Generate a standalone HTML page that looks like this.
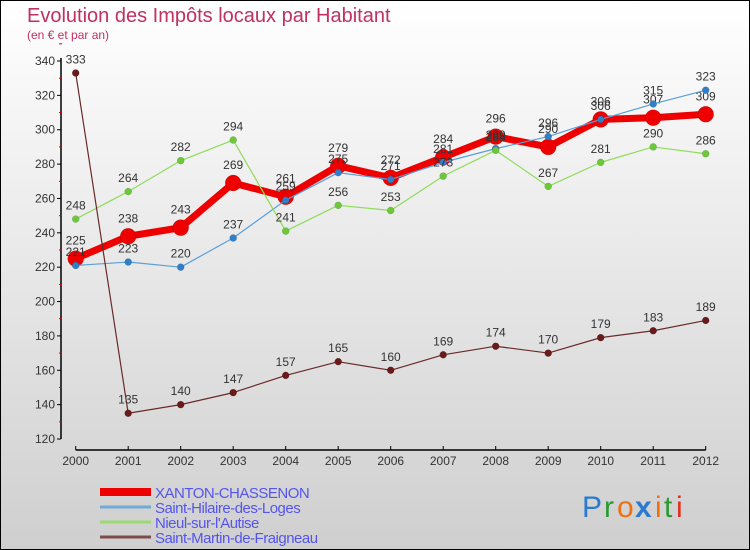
<!DOCTYPE html>
<html><head><meta charset="utf-8"><style>
html,body{margin:0;padding:0}
body{width:750px;height:550px;overflow:hidden;font-family:"Liberation Sans",sans-serif}
#wrap{position:absolute;left:0;top:0;width:748px;height:548px;border:1px solid #000;background:linear-gradient(#ffffff,#cfcfcf)}
</style></head><body>
<div id="wrap">
<svg width="750" height="550" style="position:absolute;left:-1px;top:-1px" id="chart">
<text x="27" y="22" font-size="20" fill="#c03060">Evolution des Impôts locaux par Habitant</text>
<text x="27" y="39" font-size="12" fill="#c03060">(en € et par an)</text>
<g id="axes"></g>
<g id="series"></g>
<g id="legend"></g>
<g font-size="30" font-family="'Liberation Sans',sans-serif">
<text x="582" y="517" fill="#2a7bd0">P</text><text x="604" y="517" fill="#2a9a30">r</text><text x="617" y="517" fill="#f07010">o</text><text x="635" y="517" fill="#2a7bd0" font-weight="bold">x</text><text x="655" y="517" fill="#f07010">i</text><text x="664" y="517" fill="#2a9a30">t</text><text x="676" y="517" fill="#e03020">i</text>
</g>
</svg>
</div>
<script>
const years=[2000,2001,2002,2003,2004,2005,2006,2007,2008,2009,2010,2011,2012];
const xanton=[225,238,243,269,261,279,272,284,296,290,306,307,309];
const hilaire=[221,223,220,237,259,275,271,281,289,296,306,315,323];
const nieul=[248,264,282,294,241,256,253,273,288,267,281,290,286];
const martin=[333,135,140,147,157,165,160,169,174,170,179,183,189];
const yTicks=[120,140,160,180,200,220,240,260,280,300,320,340];
const NS='http://www.w3.org/2000/svg';
const xs=i=>75.7+i*(705.7-75.7)/12;
const ys=v=>61+(340-v)*(439-61)/220;
function mk(t,a,p){const e=document.createElementNS(NS,t);for(const k in a)e.setAttribute(k,a[k]);p.appendChild(e);return e;}
const ax=document.getElementById('axes');
const yl=mk('line',{x1:61,y1:ys(340)-3,x2:61,y2:ys(120),stroke:'#000','stroke-width':1.5},ax);


yTicks.forEach(v=>{
 mk('line',{x1:57,x2:61,y1:ys(v),y2:ys(v),stroke:'#000'},ax);
 mk('line',{x1:59,x2:62,y1:ys(v+10),y2:ys(v+10),stroke:'#e00000'},ax);
 const t=mk('text',{x:55,y:ys(v)+4,'text-anchor':'end','font-size':12,fill:'#333'},ax);
 t.textContent=v;
 
 
});
const xl=mk('line',{x1:xs(0),y1:450,x2:xs(12),y2:450,stroke:'#000','stroke-width':1.5},ax);


years.forEach((y,i)=>{
 mk('line',{x1:xs(i),x2:xs(i),y1:446,y2:450,stroke:'#000'},ax);
 const t=mk('text',{x:xs(i),y:465,'text-anchor':'middle','font-size':12,fill:'#333'},ax);
 t.textContent=y;
 
 
});
const sg=document.getElementById('series');
const series=[
 {n:'xanton',d:xanton,c:'#ee0000',w:7,r:8,pc:'#ee0000',label:'XANTON-CHASSENON'},
 {n:'hilaire',d:hilaire,c:'#5a9fd8',w:1.2,r:3.5,pc:'#2f80c8',label:'Saint-Hilaire-des-Loges'},
 {n:'nieul',d:nieul,c:'#8edc5a',w:1.2,r:3.5,pc:'#6cc83a',label:'Nieul-sur-l\'Autise'},
 {n:'martin',d:martin,c:'#6a2a2a',w:1.2,r:3.5,pc:'#6a1a1a',label:'Saint-Martin-de-Fraigneau'}
];
series.forEach(s=>{
 const g=mk('g',{},sg);
 
 
 const pl=mk('polyline',{points:s.d.map((v,i)=>xs(i)+','+ys(v)).join(' '),fill:'none',stroke:s.c,'stroke-width':s.w,'stroke-linejoin':'round'},g);
 
 
 s.d.forEach((v,i)=>{
  const c=mk('circle',{cx:xs(i),cy:ys(v),r:s.r,fill:s.pc,stroke:'rgba(0,0,0,0.2)','stroke-width':0.5},g);
  
  
  const t=mk('text',{x:xs(i),y:ys(v)-(s.r+6),'text-anchor':'middle','font-size':12,fill:'#333'},g);
  t.textContent=v;
  
  
 });
});
const lg=document.getElementById('legend');
const ly=[492,507,522,537];
series.forEach((s,i)=>{
 const g=mk('g',{},lg);
 
 
 mk('line',{x1:100,x2:151,y1:ly[i],y2:ly[i],stroke:s.c,'stroke-width':i==0?8:3,opacity:i==0?1:0.8},g);
 const t=mk('text',{x:155,y:ly[i]+6,'font-size':15,fill:'#5555ee','letter-spacing':'-0.5'},g);
 t.textContent=s.label;
});
</script>
</body></html>
